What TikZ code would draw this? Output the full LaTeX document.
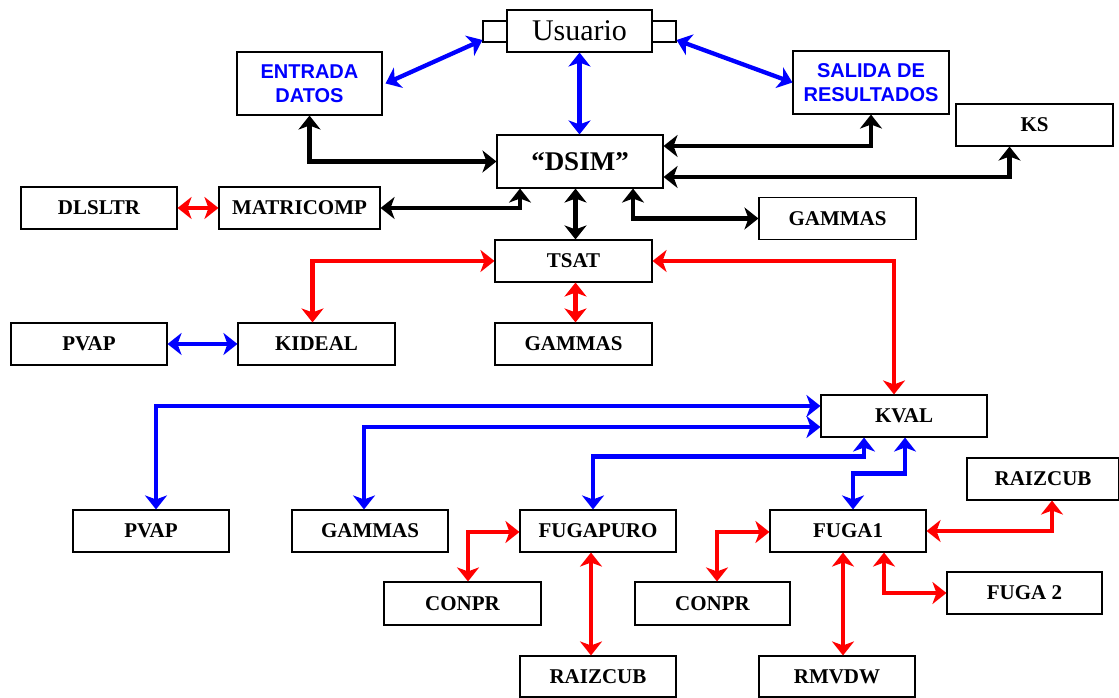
\documentclass[tikz,border=0pt]{standalone}
\usepackage{fontspec}
\setmainfont{Liberation Serif}
\newfontfamily\labelsans{Liberation Sans}
\usetikzlibrary{arrows.meta}

\definecolor{linkblue}{RGB}{0,0,255}
\definecolor{linkred}{RGB}{255,0,0}

\begin{document}
\begin{tikzpicture}[x=1pt,y=1pt,
  box/.style={draw=black, line width=1.1pt, fill=white, minimum height=42pt,
              minimum width=156pt, inner sep=0pt,
              font=\fontsize{21}{24}\selectfont\bfseries},
  tab/.style={draw=black, line width=1.1pt, fill=white, minimum width=24pt,
              minimum height=21pt, inner sep=0pt},
  bluetext/.style={text=linkblue, align=center,
              font=\labelsans\fontsize{20}{23.7}\selectfont\bfseries},
  tip/.tip={Stealth[length=14pt,width=22pt,inset=4pt]},
  link/.style={line width=4.3pt, tip-tip},
  blk/.style={link, draw=black},
  blu/.style={link, draw=linkblue},
  rd/.style={link, draw=linkred}]

\useasboundingbox (0,0) rectangle (1119,698);

% --- top level: user, input/output, main program ---
\node[tab] (usrL) at (495,666.5) {};
\node[tab] (usrR) at (664,666.5) {};
\node[box, minimum width=145pt, font=\fontsize{30}{34}\selectfont] (usr) at (579.5,667) {Usuario};
\node[box, minimum width=145pt, minimum height=63pt, bluetext] (entrada) at (309.5,614.5) {ENTRADA\\DATOS};
\node[box, minimum height=63pt, bluetext] (salida) at (871,615.5) {SALIDA DE\\RESULTADOS};
\node[box, minimum width=157pt] (ks) at (1034.5,573) {KS};
\node[box, minimum width=166pt, minimum height=53pt, font=\fontsize{27}{30}\selectfont\bfseries] (dsim) at (580,536.5) {“DSIM”};

% --- second level ---
\node[box] (dlsltr) at (99,490) {DLSLTR};
\node[box, minimum width=161pt] (matri) at (299.5,490) {MATRICOMP};
\node[box, minimum width=157pt] (gamA) at (837.5,479.5) {GAMMAS};
\node[box, minimum width=157pt] (tsat) at (573.5,437) {TSAT};
\node[box] (pvapA) at (89,354) {PVAP};
\node[box, minimum width=157pt] (kideal) at (316.5,354) {KIDEAL};
\node[box, minimum width=157pt] (gamB) at (573.5,354) {GAMMAS};

% --- equilibrium constants ---
\node[box, minimum width=166pt] (kval) at (904,282) {KVAL};
\node[box, minimum width=152pt] (raizA) at (1043,219) {RAIZCUB};
\node[box] (pvapB) at (151,167) {PVAP};
\node[box] (gamC) at (370,167) {GAMMAS};
\node[box] (fugap) at (598,167) {FUGAPURO};
\node[box] (fuga1) at (848,167) {FUGA1};
\node[box, minimum width=157pt, minimum height=43pt] (conprA) at (462.5,94.5) {CONPR};
\node[box, minimum width=155pt, minimum height=43pt] (conprB) at (712.5,94.5) {CONPR};
\node[box, minimum width=155pt] (fuga2) at (1024.5,105) {FUGA 2};
\node[box, minimum height=41pt] (raizB) at (598,21.5) {RAIZCUB};
\node[box, minimum height=41pt] (rmvdw) at (837,21.5) {RMVDW};

% --- user links (blue) ---
\draw[blu] ([xshift=3pt]entrada.east) -- ([yshift=-8.5pt]usrL.west);
\draw[blu] ([yshift=-8.5pt]usrR.east) -- (salida.west);
\draw[blu] (usr.south) -- (usr.south |- dsim.north);

% --- main program links (black) ---
\draw[blk] (entrada.south) |- (dsim.west);
\draw[blk] ([yshift=15.5pt]dsim.east) -| (salida.south);
\draw[blk] ([yshift=-15.5pt]dsim.east) -| ([xshift=-25pt]ks.south);
\draw[blk] (matri.east) -| ([xshift=-60pt]dsim.south);
\draw[blk] ([xshift=2pt]tsat.north) -- ([xshift=2pt]tsat.north |- dsim.south);
\draw[blk] ([xshift=53pt]dsim.south) |- (gamA.west);

% --- red links ---
\draw[rd] (dlsltr.east) -- (matri.west);
\draw[rd] (tsat.west) -| ([xshift=-4pt]kideal.north);
\draw[rd] ([xshift=2pt]tsat.south) -- ([xshift=2pt]gamB.north);
\draw[rd] (tsat.east) -| ([xshift=-10pt]kval.north);

% --- blue links below ---
\draw[blu] (pvapA.east) -- (kideal.west);
\draw[blu] ([yshift=10pt]kval.west) -| ([xshift=5pt]pvapB.north);
\draw[blu] ([yshift=-11pt]kval.west) -| ([xshift=-6pt]gamC.north);
\draw[blu] ([xshift=-40pt]kval.south) -- ++(0,-19) -| ([xshift=-5pt]fugap.north);
\draw[blu] ([xshift=1pt]kval.south) -- ++(0,-36) -| ([xshift=5pt]fuga1.north);

% --- fugacity links (red) ---
\draw[rd] ([yshift=-1pt]fugap.west) -| ([xshift=5.5pt]conprA.north);
\draw[rd] ([xshift=-7pt]fugap.south) -- ([xshift=-7pt]fugap.south |- raizB.north);
\draw[rd] ([yshift=-1pt]fuga1.west) -| ([xshift=4.5pt]conprB.north);
\draw[rd] ([xshift=-5pt]fuga1.south) -- ([xshift=-5pt]fuga1.south |- rmvdw.north);
\draw[rd] ([xshift=36pt]fuga1.south) |- (fuga2.west);
\draw[rd] (fuga1.east) -| ([xshift=9pt]raizA.south);
\end{tikzpicture}
\end{document}
